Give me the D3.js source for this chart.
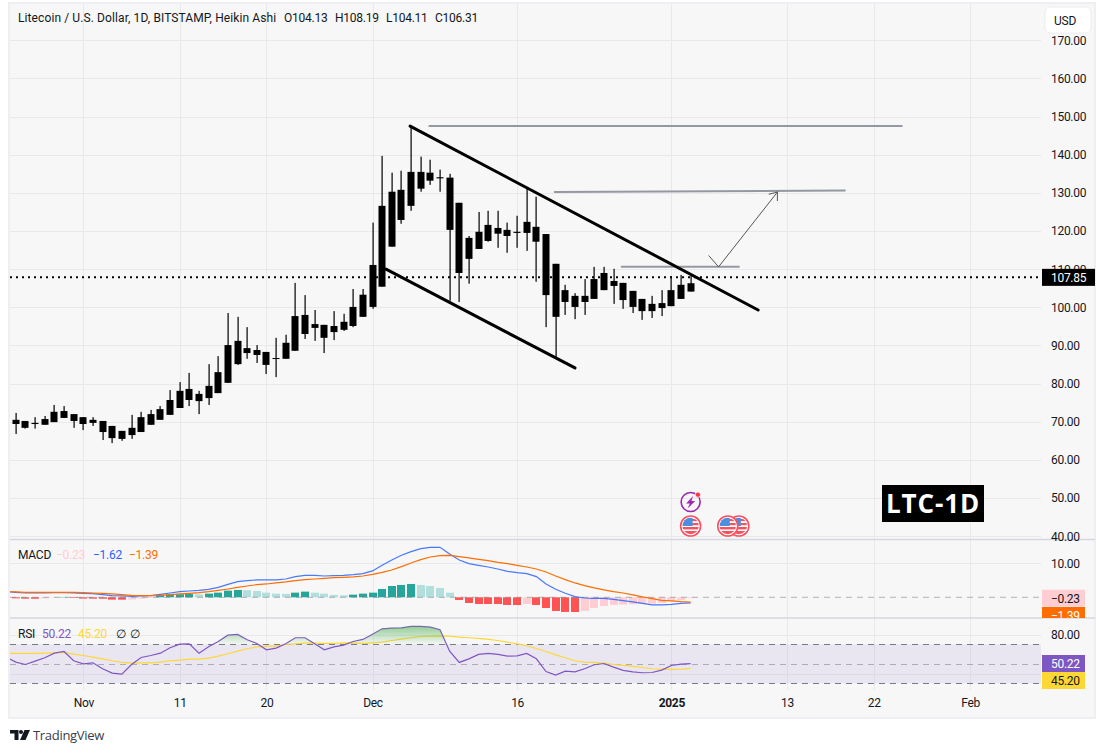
<!DOCTYPE html>
<html><head><meta charset="utf-8">
<script src="https://cdn.jsdelivr.net/npm/d3@7/dist/d3.min.js"></script>
<style>
html,body{margin:0;padding:0;background:#fff}
svg{display:block}
text{font-family:Roboto,"Open Sans",sans-serif;fill:#131722}
</style></head><body><svg id="c" width="1105" height="753"></svg>
<script>
// Day numbers are counted from 1 Nov 2024
const firstCandleDay = -7, firstIndicatorDay = -8;
const tickDays = [0,10,19,30,45,61,73,82,92];
const tickLabels = ["Nov","11","20","Dec","16","2025","13","22","Feb"];
const priceTicks = [170,160,150,140,130,120,110,100,90,80,70,60,50,40];

const wickHigh = [72.3,70.2,71.2,71.5,74.4,74.1,72.0,71.2,71.2,70.2,68.9,67.6,71.8,72.6,73.1,74.1,78.3,80.4,82.8,78.1,85.1,87.2,98.5,97.5,94.8,90.1,88.3,92.0,92.8,106.4,103.2,99.3,95.4,99.0,98.3,104.8,104.8,122.2,139.7,135.3,135.8,147.6,139.5,138.7,136.1,135.0,127.4,118.7,125.0,125.3,125.3,122.2,124.0,131.1,129.0,119.2,111.4,105.9,103.7,107.4,110.6,110.6,110.1,106.4,104.3,102.2,103.0,104.5,108.2,108.5,108.19];
const bodyTop = [70.5,70.2,69.7,70.7,72.6,72.8,72.0,71.2,70.5,70.2,68.9,67.6,68.4,71.2,72.0,73.3,75.7,78.1,78.6,77.3,79.4,83.0,90.1,91.2,89.3,88.8,88.3,86.7,90.7,97.7,98.0,95.6,95.4,95.1,96.2,100.1,103.3,111.1,126.6,130.3,130.8,135.5,135.5,135.3,134.1,134.0,127.4,118.2,119.8,121.6,120.8,120.3,119.8,122.4,121.1,119.2,111.4,104.5,103.0,103.0,107.4,109.0,106.9,106.4,104.3,102.2,100.9,101.1,104.5,105.9,106.31];
const bodyBottom = [69.4,68.4,69.4,69.2,69.9,71.0,70.2,69.4,69.7,67.3,65.7,65.5,66.5,67.3,69.2,70.5,71.8,73.6,75.7,75.4,76.2,77.5,80.2,85.1,88.0,87.5,84.9,86.5,86.5,88.6,93.0,94.6,92.0,93.5,94.1,95.1,97.5,100.1,105.4,115.9,122.9,126.6,131.1,133.2,133.8,120.3,109.0,112.7,115.3,117.4,119.3,118.7,119.5,119.5,117.2,103.2,97.5,101.4,100.1,101.4,102.2,104.5,105.6,101.9,100.1,99.0,99.0,99.8,100.3,102.2,104.13];
const wickLow = [66.8,68.2,68.2,69.2,69.9,71.0,68.4,67.8,68.9,65.2,64.4,65.0,65.5,67.3,69.2,70.5,71.8,73.6,74.1,72.0,74.4,77.5,80.2,84.9,86.5,85.4,82.5,81.7,86.5,88.6,91.7,91.2,88.0,91.4,93.8,94.8,97.5,99.6,105.4,115.9,121.9,125.3,130.3,132.1,130.3,101.7,101.4,106.2,115.3,117.2,115.6,114.3,115.6,114.8,106.7,94.8,87.0,98.0,96.9,98.0,102.2,104.5,100.9,99.6,98.5,96.7,97.2,97.7,100.3,102.2,104.11];
const lastPrice = 107.85;

const macdLine = [1.67,1.47,1.27,1.27,1.27,1.37,1.37,1.27,1.18,1.08,0.78,0.49,0.39,0.29,0.39,0.49,0.88,1.27,1.67,1.86,2.06,2.35,2.94,3.82,4.61,4.90,5.10,5.10,5.10,5.39,6.08,6.47,6.47,6.27,6.37,6.47,6.67,6.96,7.75,9.41,10.98,12.35,13.43,14.31,14.71,14.71,12.75,10.98,9.90,9.41,8.92,8.33,7.65,7.25,6.96,6.08,3.92,2.35,1.18,0.20,-0.20,-0.29,-0.29,-0.59,-0.98,-1.37,-1.76,-2.25,-2.25,-2.06,-1.76,-1.62];
const signalLine = [1.67,1.57,1.47,1.47,1.47,1.47,1.47,1.47,1.37,1.27,1.18,0.98,0.78,0.59,0.49,0.49,0.59,0.78,0.98,1.18,1.37,1.67,2.06,2.45,2.94,3.33,3.73,3.92,4.22,4.51,4.90,5.20,5.39,5.59,5.78,5.88,5.98,6.27,6.76,7.35,8.04,9.02,10.10,11.08,11.86,12.25,12.35,11.96,11.57,11.18,10.78,10.29,9.90,9.41,8.92,8.33,7.45,6.27,5.20,4.22,3.43,2.75,2.16,1.67,1.27,0.69,0.10,-0.39,-0.88,-1.08,-1.27,-1.39];
const macdHist = [-0.25,-0.30,-0.40,-0.42,-0.30,-0.10,0.10,-0.20,-0.38,-0.40,-0.42,-0.68,-0.70,-0.65,-0.40,-0.20,0.69,0.88,0.90,1.00,0.88,1.08,1.37,1.96,2.16,2.10,1.86,1.37,1.08,1.00,1.37,1.67,1.37,1.08,0.69,0.60,0.78,1.08,1.37,2.45,3.33,3.63,3.92,3.63,3.33,2.75,1.37,-0.78,-1.67,-1.96,-1.97,-1.98,-2.25,-2.27,-1.96,-2.25,-3.14,-4.02,-4.31,-4.33,-4.02,-3.14,-2.55,-2.25,-2.15,-2.05,-1.96,-1.86,-1.67,-1.08,-0.78,-0.23];

const rsiLine = [56.8,51.7,49.3,52.7,56.2,60.9,62.6,53.1,50.0,51.0,44.9,40.4,39.4,49.3,56.5,58.5,60.9,66.4,70.2,70.5,60.9,67.4,72.9,79.4,80.1,74.6,70.9,64.4,66.1,70.5,76.7,76.7,70.5,64.4,67.4,69.1,72.9,75.0,80.4,85.9,86.6,86.9,88.3,88.3,87.6,84.9,63.0,51.4,55.1,59.6,60.6,59.6,57.9,58.2,60.6,55.1,42.1,38.4,42.5,41.8,44.9,49.0,50.3,46.6,43.2,41.8,40.8,41.1,43.5,48.3,49.7,50.22];
const rsiAverage = [60.6,60.6,60.6,60.6,60.9,61.3,61.6,59.9,58.5,56.8,55.1,53.1,51.4,50.7,51.0,51.0,51.7,53.1,53.8,54.8,54.8,55.8,57.9,60.3,63.0,65.4,67.4,68.1,68.1,69.8,70.5,71.2,71.2,70.9,70.9,71.5,71.2,70.9,71.5,72.2,73.9,75.3,76.7,78.0,78.4,78.7,78.4,77.4,76.7,76.0,75.0,73.9,72.2,70.5,68.5,65.7,62.6,59.2,56.2,53.1,51.7,51.4,50.7,49.3,48.3,47.3,46.2,44.9,44.2,44.2,44.5,45.20];

// Hand-drawn annotations, [day, price]
const channelUpper = [[33.9,147.5],[70.0,99.3]];
const channelLower = [[31.4,110.0],[51.0,84.1]];
const levelHigh = [[35.9,147.5],[84.9,147.5]];
const levelMid = [[48.9,130.2],[79.0,130.6]];
const levelLow = [[55.85,110.6],[68.0,110.6]];
const arrowPath = [[64.9,113.5],[65.9,110.6],[72.0,130.2]];
const flagDays = [68,66.85,63], boltDay = 63;

const C = {ink:"#131722",grid:"#e9e9eb",sep:"#d6d6e0",bg:"#f7f7f7",frame:"#eeeef3",
  blue:"#2962ff",orange:"#ff6d00",purple:"#7e57c2",yellow:"#fdd835",pink:"#ffcdd2",
  teal:"#26a69a",lteal:"#b2dfdb",red:"#ff5252",dash:"#787b86",level:"#9598a1"};
const L=10,R=1041,FR=1095,T=4,PB=539.5,MB=618,RB=690,FB=718;

const x = d3.scaleLinear().domain([0,92]).range([83.3,970.2]);
const y = d3.scaleLinear().domain([100,170]).range([307.3,40.3]);
const yM = d3.scaleLinear().domain([0,10]).range([597.3,563.3]);
const yR = d3.scaleLinear().domain([30,70]).range([683.3,644.3]);
const svg = d3.select("#c");
const defs = svg.append("defs");
defs.append("clipPath").attr("id","pP").append("rect").attr("x",L).attr("y",T).attr("width",R-L).attr("height",PB-T);
defs.append("clipPath").attr("id","mP").append("rect").attr("x",L).attr("y",PB+1).attr("width",R-L).attr("height",MB-PB-2);
defs.append("clipPath").attr("id","rP").append("rect").attr("x",L).attr("y",MB+1).attr("width",R-L).attr("height",RB-MB-1);
defs.append("clipPath").attr("id","ob").append("rect").attr("x",L).attr("y",MB+1).attr("width",R-L).attr("height",yR(70)-MB-1);
defs.append("clipPath").attr("id","lblM").append("rect").attr("x",1041).attr("y",PB+1).attr("width",54).attr("height",MB-PB-1);
defs.append("clipPath").attr("id","fc").append("circle").attr("r",8.2);
const g0 = defs.append("linearGradient").attr("id","obg").attr("gradientUnits","userSpaceOnUse")
  .attr("x1",0).attr("x2",0).attr("y1",yR(90)).attr("y2",yR(70));
g0.append("stop").attr("offset",0).attr("stop-color","#4caf50").attr("stop-opacity",.62);
g0.append("stop").attr("offset",1).attr("stop-color","#4caf50").attr("stop-opacity",.02);
const mk = defs.append("marker").attr("id","ah").attr("markerUnits","userSpaceOnUse").attr("orient","auto")
  .attr("markerWidth",20).attr("markerHeight",20).attr("viewBox","-12 -10 20 20").attr("refX",0).attr("refY",0);
mk.append("path").attr("d","M-7,-5.5L0,0L-7,5.5").attr("fill","none").attr("stroke","#555").attr("stroke-width",1);

// frame
svg.append("rect").attr("x",L-1).attr("y",T-1).attr("width",FR-L+1).attr("height",FB-T+1)
  .attr("fill",C.bg).attr("stroke",C.frame).attr("stroke-width",2);

// grid
const vg = svg.append("g");
vg.selectAll("line").data(tickDays).join("line").attr("x1",d=>Math.round(x(d))+.5).attr("x2",d=>Math.round(x(d))+.5)
  .attr("y1",T).attr("y2",RB).attr("stroke",C.grid);
function hgrid(vals,sc){svg.append("g").selectAll("line").data(vals).join("line")
  .attr("x1",L).attr("x2",R).attr("y1",d=>Math.round(sc(d))+.5).attr("y2",d=>Math.round(sc(d))+.5).attr("stroke",C.grid);}
hgrid(priceTicks,y); hgrid([10],yM); hgrid([80,40],yR);

// separators
svg.append("g").selectAll("line").data([PB,MB]).join("line").attr("x1",L).attr("x2",FR)
  .attr("y1",d=>d).attr("y2",d=>d).attr("stroke",C.sep).attr("stroke-width",1.5);

// candles
const candles = wickHigh.map((h,i)=>({d:firstCandleDay+i,h,t:bodyTop[i],b:bodyBottom[i],l:wickLow[i]}));
const pg = svg.append("g").attr("clip-path","url(#pP)");
pg.append("line").attr("x1",L).attr("x2",R).attr("y1",y(lastPrice)).attr("y2",y(lastPrice))
  .attr("stroke","#000").attr("stroke-width",2).attr("stroke-dasharray","2 4");
const cg = pg.selectAll("g.k").data(candles).join("g").attr("class","k");
cg.append("rect").attr("x",d=>Math.round(x(d.d))-.5).attr("width",1.2).attr("y",d=>y(d.h)).attr("height",d=>y(d.l)-y(d.h)).attr("fill","#000");
cg.append("rect").attr("x",d=>Math.round(x(d.d))-3.5).attr("width",7).attr("y",d=>y(d.t)).attr("height",d=>Math.max(1,y(d.b)-y(d.t))).attr("fill","#000");

// annotations
const ln = d3.line().x(d=>x(d[0])).y(d=>y(d[1]));
function drawn(pts,color,w,g){return g.append("path").attr("d",ln(pts)).attr("fill","none").attr("stroke",color)
  .attr("stroke-width",w).attr("stroke-linecap","round").attr("stroke-linejoin","round");}
drawn(levelHigh,C.level,2,pg); drawn(levelMid,C.level,2,pg); drawn(levelLow,C.level,2,pg);
drawn(channelUpper,"#000",3,pg); drawn(channelLower,"#000",3,pg);
drawn(arrowPath,"#555",1,pg).attr("marker-end","url(#ah)");

// icons
function flag(d){const g=pg.append("g").attr("transform",`translate(${x(d)},526)`);
  g.append("circle").attr("r",10).attr("fill","#fff").attr("stroke","#f7525f").attr("stroke-width",1.6);
  const c=g.append("g").attr("clip-path","url(#fc)");
  [[-8,-7,2.2],[-8,-3,2.2],[-9,1,2.4],[-9,5,4]].forEach(s=>c.append("rect").attr("x",s[0]).attr("y",s[1]).attr("width",18).attr("height",s[2]).attr("fill","#f7525f"));
  c.append("rect").attr("x",-9).attr("y",-9).attr("width",11).attr("height",9).attr("fill","#4a90e2");
}
flagDays.forEach(flag);
const bolt=pg.append("g").attr("transform",`translate(${x(boltDay)},502)`);
bolt.append("circle").attr("r",9.5).attr("fill","none").attr("stroke","#9c27b0").attr("stroke-width",1.6);
bolt.append("path").attr("d","M2.5,-6L-4.5,1.5H-0.8L-3,6.5L4.5,-1H0.8Z").attr("fill","#9c27b0");
bolt.append("circle").attr("cx",7.3).attr("cy",-7.3).attr("r",2.6).attr("fill","#f23645").attr("stroke",C.bg).attr("stroke-width",.8);

// LTC-1D box
svg.append("rect").attr("x",882).attr("y",485).attr("width",102).attr("height",37).attr("fill","#000");
svg.append("text").attr("x",933).attr("y",512.5).attr("text-anchor","middle").attr("font-size",26).attr("font-weight",700)
  .attr("letter-spacing",.9).style("fill","#fff").style("font-family","'Open Sans',sans-serif").text("LTC-1D");

// MACD pane
const mg = svg.append("g").attr("clip-path","url(#mP)");
const hist = macdHist.map((v,i)=>({d:firstIndicatorDay+i,v,p:i?macdHist[i-1]:v}));
const hCol = d=>d.v>=0?(d.v>=d.p?C.teal:C.lteal):(d.v<d.p?C.red:C.pink);
mg.selectAll("rect").data(hist).join("rect").attr("x",d=>Math.round(x(d.d))-4).attr("width",8)
  .attr("y",d=>Math.min(yM(d.v),yM(0))).attr("height",d=>Math.abs(yM(d.v)-yM(0))).attr("fill",hCol);
mg.append("line").attr("x1",L).attr("x2",R).attr("y1",yM(0)).attr("y2",yM(0)).attr("stroke",C.dash)
  .attr("stroke-opacity",.55).attr("stroke-dasharray","6 5");
const lnM = d3.line().x((d,i)=>x(firstIndicatorDay+i)).y(d=>yM(d));
mg.append("path").attr("d",lnM(macdLine)).attr("fill","none").attr("stroke",C.blue).attr("stroke-opacity",.85).attr("stroke-width",1.2);
mg.append("path").attr("d",lnM(signalLine)).attr("fill","none").attr("stroke",C.orange).attr("stroke-width",1.2);

// RSI pane
const rg = svg.append("g").attr("clip-path","url(#rP)");
rg.append("rect").attr("x",L).attr("width",R-L).attr("y",yR(70)).attr("height",yR(30)-yR(70)).attr("fill",C.purple).attr("fill-opacity",.1);
const rArea = d3.area().x((d,i)=>x(firstIndicatorDay+i)).y0(yR(70)).y1(d=>yR(d));
svg.append("path").attr("clip-path","url(#ob)").attr("d",rArea(rsiLine)).attr("fill","url(#obg)");
[[70,1],[50,.55],[30,1]].forEach(([v,o])=>rg.append("line").attr("x1",L).attr("x2",R).attr("y1",Math.round(yR(v))+.5).attr("y2",Math.round(yR(v))+.5)
  .attr("stroke",C.dash).attr("stroke-opacity",o).attr("stroke-dasharray","6 5"));
const lnR = d3.line().x((d,i)=>x(firstIndicatorDay+i)).y(d=>yR(d));
rg.append("path").attr("d",lnR(rsiAverage)).attr("fill","none").attr("stroke",C.yellow).attr("stroke-width",1.2);
rg.append("path").attr("d",lnR(rsiLine)).attr("fill","none").attr("stroke",C.purple).attr("stroke-width",1.2);

// axes
function styleAxis(g){g.select(".domain").remove();g.selectAll("line").remove();
  g.selectAll("text").attr("font-size",12).attr("letter-spacing",-.3).style("fill",C.ink)
   .style("font-family","Roboto,sans-serif");}
const fmt2 = d3.format(".2f");
svg.append("g").attr("transform",`translate(${R},0)`).call(d3.axisRight(y).tickValues(priceTicks).tickSize(0).tickPadding(10).tickFormat(fmt2)).call(styleAxis);
svg.append("g").attr("transform",`translate(${R},0)`).call(d3.axisRight(yM).tickValues([10]).tickSize(0).tickPadding(10).tickFormat(fmt2)).call(styleAxis);
svg.append("g").attr("transform",`translate(${R},0)`).call(d3.axisRight(yR).tickValues([80]).tickSize(0).tickPadding(10).tickFormat(fmt2)).call(styleAxis);
const xa = svg.append("g").attr("transform",`translate(0,${RB+5})`)
  .call(d3.axisBottom(x).tickValues(tickDays).tickSize(0).tickPadding(3).tickFormat((d,i)=>tickLabels[i])).call(styleAxis);
xa.selectAll("text").attr("font-weight",(d,i)=>tickLabels[i]==="2025"?700:400);

// value labels
function tag(val,color,txtColor,clip){const g=svg.append("g");
  const cy=val[1]; if(clip) g.attr("clip-path","url(#lblM)");
  g.append("rect").attr("x",1042).attr("y",cy-8.5).attr("width",val[2]||43).attr("height",17).attr("fill",color);
  g.append("text").attr("x",1051).attr("y",cy+4.3).attr("font-size",12).attr("letter-spacing",-.3).style("fill",txtColor).text(val[0]);}
tag(["107.85",y(lastPrice),53],"#000","#fff");
tag(["\u22120.23",598.2],C.pink,C.ink,true);
tag(["\u22121.39",615.5],C.orange,"#fff",true);
tag(["50.22",663.5],C.purple,"#fff");
tag(["45.20",680.5],C.yellow,C.ink);

// USD button
svg.append("rect").attr("x",1045).attr("y",7).attr("width",46).attr("height",26).attr("rx",5).attr("fill","#fff").attr("stroke","#ececf0");
svg.append("text").attr("x",1054).attr("y",24.5).attr("font-size",12).attr("letter-spacing",-.2).text("USD");

// legends
function txt(xp,yp,s,col,ls){svg.append("text").attr("x",xp).attr("y",yp).attr("font-size",12).attr("letter-spacing",ls==null?-.25:ls).style("fill",col).text(s);}
txt(18,22,"Litecoin / U.S. Dollar, 1D, BITSTAMP, Heikin Ashi",C.ink,.1);
txt(284,22,"O104.13",C.ink);txt(335,22,"H108.19",C.ink);txt(386,22,"L104.11",C.ink);txt(435,22,"C106.31",C.ink);
txt(18,559,"MACD",C.ink);txt(56,559,"\u22120.23",C.pink);txt(93,559,"\u22121.62",C.blue);txt(129,559,"\u22121.39",C.orange);
txt(18,638,"RSI",C.ink);txt(42,638,"50.22",C.purple);txt(78,638,"45.20",C.yellow);txt(116,638,"\u2205",C.ink);txt(130,638,"\u2205",C.ink);

// logo
const logo = svg.append("g").attr("fill","#131722");
logo.append("path").attr("d","M10,730H18.5V740H14.5V733.5H10Z");
logo.append("circle").attr("cx",21).attr("cy",732).attr("r",2);
logo.append("path").attr("d","M24.5,730H30L25.5,740H20Z");
svg.append("text").attr("x",33).attr("y",740).attr("font-size",13).attr("letter-spacing",-.3).style("fill","#3a3e4a").style("font-family","'Open Sans',sans-serif").text("TradingView");
</script></body></html>
